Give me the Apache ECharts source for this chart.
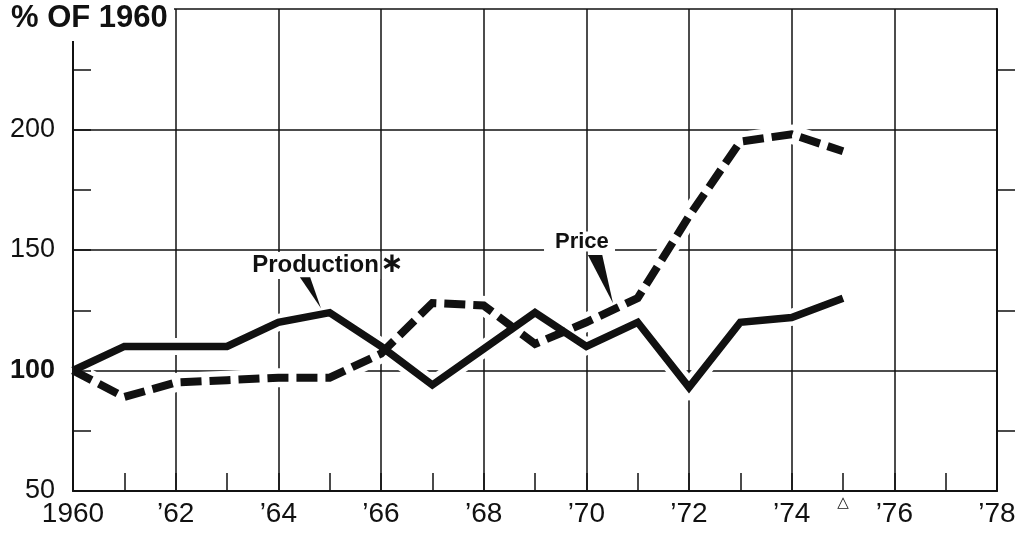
<!DOCTYPE html>
<html><head><meta charset="utf-8">
<script src="https://cdn.jsdelivr.net/npm/echarts@6/dist/echarts.min.js"></script>
<style>html,body{margin:0;padding:0;background:#fff}#c{width:1019px;height:534px}</style>
</head><body><div id="c"></div>
<script>
// ---- data ----
const years = [1960,1961,1962,1963,1964,1965,1966,1967,1968,1969,1970,1971,1972,1973,1974,1975];
const production = [100,110,110,110,120,124,110,94,109,124,110,120,93,120,122,130];
const price = [100,89,95,96,97,97,107,128,127,111,120,130,164,195,198,191];
const xLabels = ['1960','\u201962','\u201964','\u201966','\u201968','\u201970','\u201972','\u201974','\u201976','\u201978'];
const yLabels = {50:'50',100:'100',150:'150',200:'200'};
const titleText = '% OF 1960';
const prodLabel = 'Production';
const priceLabel = 'Price';
const flagYear = 1975;

// ---- chart ----
const FONT = '"Liberation Sans", Arial, Helvetica, sans-serif';
const ink = '#111';
const chart = echarts.init(document.getElementById('c'), null, {renderer:'canvas'});
const pts = arr => years.map((y,i)=>[y, arr[i]]);
const tickStyle = {color:ink, width:1.5};
const X = {type:'value',min:1960,max:1978,interval:2};
const Y = {type:'value',min:50,max:250,interval:50};
const off = {axisLine:{show:false},axisTick:{show:false},minorTick:{show:false},axisLabel:{show:false},splitLine:{show:false}};
const option = {
  animation:false,
  backgroundColor:'#fff',
  grid:{left:73,right:22,top:9,bottom:43},
  xAxis:[
    Object.assign({},X,off,{position:'bottom',z:0,splitLine:{show:true,lineStyle:{color:ink,width:1.5}}}),
    Object.assign({},X,{position:'bottom',z:10,
      axisLine:{show:true,lineStyle:{color:ink,width:2}},
      axisTick:{show:true,inside:true,length:18,lineStyle:tickStyle},
      minorTick:{show:true,splitNumber:2,length:18,lineStyle:tickStyle},
      splitLine:{show:false},
      axisLabel:{margin:9,fontSize:28,color:ink,fontFamily:FONT,
        formatter:v=>xLabels[Math.round((v-1960)/2)]||''}})
  ],
  yAxis:[
    Object.assign({},Y,off,{position:'left',z:0,splitLine:{show:true,lineStyle:{color:ink,width:1.5}}}),
    Object.assign({},Y,{position:'left',z:10,
      axisLine:{show:true,lineStyle:{color:ink,width:2}},
      axisTick:{show:true,inside:true,length:18,lineStyle:tickStyle},
      minorTick:{show:true,splitNumber:2,length:18,lineStyle:tickStyle},
      splitLine:{show:false},
      axisLabel:{margin:18,fontSize:27,color:ink,fontFamily:FONT,
        formatter:v=>v===100?'{b|100}':(yLabels[v]||''),
        rich:{b:{fontWeight:'bold',fontSize:27,color:ink,fontFamily:FONT}}}}),
    Object.assign({},Y,{position:'right',z:10,
      axisLine:{show:true,lineStyle:{color:ink,width:2}},
      axisTick:{show:false},
      minorTick:{show:true,splitNumber:2,length:18,lineStyle:tickStyle},
      splitLine:{show:false},
      axisLabel:{show:false}})
  ],
  series:[
    {type:'line',data:pts(production),showSymbol:false,silent:true,z:2,
      lineStyle:{color:'#fff',width:17,join:'miter',miterLimit:10}},
    {type:'line',data:pts(price),showSymbol:false,silent:true,z:2,
      lineStyle:{color:'#fff',width:19,join:'miter',miterLimit:10}},
    {name:'Production',type:'line',data:pts(production),showSymbol:false,z:4,
      lineStyle:{color:ink,width:7.5,join:'miter',miterLimit:10}},
    {name:'Price',type:'line',data:pts(price),showSymbol:false,z:3,
      lineStyle:{color:ink,width:8,type:[21,8],join:'miter',miterLimit:10}}
  ]
};
chart.setOption(option);

const P = (x,y)=>chart.convertToPixel({gridIndex:0},[x,y]);
const a1 = P(1964.42,138.7), a2 = P(1964.62,138.7), a3 = P(1964.83,125.8);
const b1 = P(1970.03,147.9), b2 = P(1970.31,147.9), b3 = P(1970.52,127.9);
const pl = P(1963.49,147.5);
const pr = P(1969.39,156.4);
const fl = P(flagYear,50);
chart.setOption({graphic:[
  {type:'rect',z:100,shape:{x:0,y:0,width:174,height:41},style:{fill:'#fff'}},
  {type:'text',z:101,left:11,top:3,style:{text:titleText,font:'bold 31px '+FONT,fill:ink}},
  {type:'rect',z:100,shape:{x:pl[0]-5,y:pl[1]-4,width:133,height:27},style:{fill:'#fff'}},
  {type:'text',z:101,x:pl[0],y:pl[1]-3,style:{text:prodLabel,font:'bold 24px '+FONT,fill:ink}},
  {type:'text',z:101,x:pl[0]+128,y:pl[1]-5,style:{text:'\u2217',font:'bold 28px "DejaVu Sans"',fill:ink}},
  {type:'rect',z:100,shape:{x:pr[0]-11,y:pr[1]-3,width:71,height:20},style:{fill:'#fff'}},
  {type:'text',z:101,x:pr[0],y:pr[1]-4,style:{text:priceLabel,font:'bold 22px '+FONT,fill:ink}},
  {type:'polygon',z:101,shape:{points:[a1,a2,a3]},style:{fill:ink}},
  {type:'polygon',z:101,shape:{points:[b1,b2,b3]},style:{fill:ink}},
  {type:'text',z:101,x:fl[0],y:fl[1]+5,style:{text:'\u25B3',font:'15px "DejaVu Sans"',fill:ink,align:'center'}}
]});
</script></body></html>
